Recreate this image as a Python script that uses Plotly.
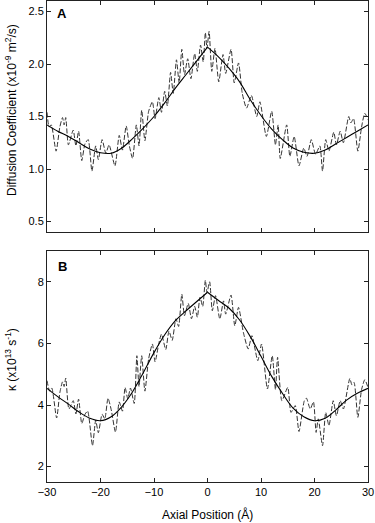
import plotly.graph_objects as go

# ---------------- data ----------------
x_smooth = [-30, -28, -26, -24, -22, -20, -18, -16, -14, -12, -10, -8, -6, -4, -2, 0,
            2, 4, 6, 8, 10, 12, 14, 16, 18, 20, 22, 24, 26, 28, 30]
diff_smooth = [1.42, 1.36, 1.31, 1.25, 1.19, 1.155, 1.15, 1.20, 1.29, 1.39, 1.50, 1.63, 1.77, 1.90, 2.03, 2.16,
               2.07, 1.96, 1.83, 1.66, 1.51, 1.38, 1.28, 1.20, 1.16, 1.15, 1.18, 1.24, 1.30, 1.36, 1.42]
kappa_smooth = [4.54, 4.27, 4.03, 3.77, 3.57, 3.49, 3.62, 3.95, 4.43, 5.05, 5.70, 6.28, 6.74, 7.06, 7.36, 7.66,
                7.40, 7.15, 6.76, 6.22, 5.58, 4.93, 4.38, 3.90, 3.62, 3.49, 3.57, 3.84, 4.16, 4.38, 4.54]

x_diff_raw = [-30.0, -29.6, -29.2, -28.3, -27.6, -27.1, -26.8, -26.5, -26.0, -25.1, -24.6, -24.1, -23.5, -22.9,
              -22.3, -21.6, -20.9, -20.4, -19.7, -19.0, -18.4, -17.3, -16.5, -15.9, -15.2, -14.6, -14.0, -13.3,
              -12.8, -12.3, -11.7, -11.0, -10.3, -9.8, -9.1, -8.6, -8.0, -7.5, -6.9, -6.4, -5.8, -5.3, -4.8,
              -4.3, -3.7, -3.1, -2.4, -1.9, -1.3, -0.8, -0.4, -0.1, 0.3, 0.8, 1.4, 2.1, 2.9, 3.4, 4.4, 5.0,
              5.8, 6.5, 7.3, 8.2, 9.2, 9.8, 11.0, 12.0, 12.7, 13.2, 13.6, 14.8, 15.4, 16.2, 17.1, 18.0, 18.6,
              19.4, 20.2, 21.0, 21.5, 22.1, 22.7, 23.6, 24.1, 24.8, 25.4, 26.4, 26.8, 27.3, 28.1, 28.8, 29.4, 30.0]
diff_raw = [1.54, 1.40, 1.42, 1.17, 1.40, 1.49, 1.42, 1.49, 1.23, 1.37, 1.22, 1.36, 1.08, 1.24,
            1.28, 0.98, 1.22, 1.09, 1.28, 1.15, 1.23, 1.03, 1.32, 1.18, 1.41, 1.22, 1.10, 1.42,
            1.22, 1.56, 1.27, 1.55, 1.64, 1.48, 1.68, 1.54, 1.74, 1.60, 1.92, 1.72, 2.04, 1.82, 2.14,
            1.90, 2.05, 1.86, 2.10, 1.93, 2.18, 2.02, 2.30, 2.15, 2.31, 1.93, 2.15, 1.83, 2.09, 1.91, 2.14, 1.82,
            2.01, 1.72, 1.58, 1.70, 1.50, 1.64, 1.31, 1.55, 1.23, 1.42, 1.10, 1.42, 1.12, 1.31, 1.03, 1.20, 1.12,
            1.28, 1.14, 1.22, 0.98, 1.28, 1.17, 1.35, 1.23, 1.36, 1.25, 1.50, 1.44, 1.48, 1.17, 1.40, 1.53, 1.47]

x_kappa_raw = [-30.0, -29.5, -29.1, -28.2, -27.6, -27.1, -26.8, -26.5, -25.9, -25.1, -24.6, -24.1, -23.5, -22.9,
               -22.4, -21.5, -20.9, -20.4, -19.7, -19.2, -18.6, -18.0, -17.2, -16.5, -15.9, -15.4, -14.9, -14.4,
               -13.7, -13.2, -12.8, -12.3, -11.7, -11.0, -10.3, -9.8, -9.1, -8.6, -7.8, -7.2, -6.6, -5.9, -5.4,
               -4.8, -4.3, -3.6, -3.0, -2.4, -1.9, -1.4, -0.9, -0.4, -0.1, 0.4, 0.9, 1.5, 2.3, 3.0, 3.4, 4.4,
               5.1, 5.8, 6.7, 7.6, 8.3, 9.4, 10.1, 11.2, 12.1, 12.7, 13.1, 13.9, 15.0, 15.6, 16.4, 17.1, 18.1,
               18.5, 19.2, 19.8, 20.3, 20.7, 21.5, 22.1, 22.7, 23.5, 24.1, 24.8, 25.4, 26.6, 27.0, 27.4, 28.1,
               28.8, 29.4, 30.0]
kappa_raw = [4.79, 4.45, 4.55, 3.58, 4.40, 4.75, 4.60, 4.87, 3.87, 4.14, 3.71, 4.19, 3.40, 3.70,
             3.80, 2.68, 3.50, 3.10, 3.70, 3.55, 4.22, 3.85, 3.12, 4.10, 3.80, 4.57, 4.20, 4.55,
             4.05, 5.60, 4.60, 5.60, 4.45, 5.50, 5.98, 5.40, 6.00, 6.30, 5.80, 6.40, 6.10, 6.80, 6.55,
             7.60, 6.90, 7.30, 6.80, 7.20, 6.85, 7.50, 7.20, 8.05, 7.65, 8.00, 7.06, 7.55, 6.79, 7.38, 6.95, 7.57,
             6.57, 7.17, 6.36, 5.82, 6.25, 5.44, 5.98, 4.52, 5.60, 4.50, 5.55, 4.14, 4.57, 3.76, 3.98, 3.14, 4.14,
             4.22, 3.87, 4.10, 3.11, 3.55, 2.68, 3.76, 3.33, 4.14, 3.65, 4.14, 3.87, 4.86, 4.65, 4.73, 3.60,
             4.50, 4.82, 4.57]

x_ticks = [-30, -20, -10, 0, 10, 20, 30]
diff_ticks = [0.5, 1.0, 1.5, 2.0, 2.5]
kappa_ticks = [2, 4, 6, 8]

# ---------------- figure ----------------
FONT = "Arial, Liberation Sans, sans-serif"
dash_style = dict(color="#333333", width=1, dash="5px,2px", shape="spline", smoothing=0.6)
solid_style = dict(color="black", width=1.1, shape="spline", smoothing=1.0)

i0 = x_smooth.index(0)
fig = go.Figure()
for xa, ya, xr, yr, ys in [("x", "y", x_diff_raw, diff_raw, diff_smooth),
                           ("x2", "y2", x_kappa_raw, kappa_raw, kappa_smooth)]:
    fig.add_trace(go.Scatter(x=xr, y=yr, mode="lines", line=dash_style, xaxis=xa, yaxis=ya,
                             showlegend=False, hoverinfo="skip"))
    fig.add_trace(go.Scatter(x=x_smooth[:i0 + 1], y=ys[:i0 + 1], mode="lines", line=solid_style,
                             xaxis=xa, yaxis=ya, showlegend=False, hoverinfo="skip"))
    fig.add_trace(go.Scatter(x=x_smooth[i0:], y=ys[i0:], mode="lines", line=solid_style,
                             xaxis=xa, yaxis=ya, showlegend=False, hoverinfo="skip"))

axis_common = dict(showline=True, linecolor="#222", linewidth=1, mirror="ticks", ticks="inside",
                   ticklen=4, tickcolor="#222", showgrid=False, zeroline=False, automargin=False,
                   ticklabeloverflow="allow",
                   tickfont=dict(family=FONT, size=11, color="black"))

L, R, T, B = 47, 7, 1, 41
PW, PH = 375 - L - R, 523 - T - B


def px_x(px):
    return (px - L) / PW


def px_y(py):
    return (523 - B - py) / PH


title_font = dict(family=FONT, size=12, color="black")
fig.update_layout(
    width=375, height=523,
    margin=dict(l=L, r=R, t=T, b=B),
    paper_bgcolor="white", plot_bgcolor="white",
    font=dict(family=FONT, size=11, color="black"),
    xaxis=dict(domain=[0, 1], anchor="y", range=[-30, 30], tickvals=x_ticks, showticklabels=False,
               **axis_common),
    yaxis=dict(domain=[px_y(232), 1], anchor="x", range=[0.4, 2.6], tickvals=diff_ticks,
               tickformat=".1f", **axis_common),
    xaxis2=dict(domain=[0, 1], anchor="y2", range=[-30, 30], tickvals=x_ticks, **axis_common),
    yaxis2=dict(domain=[0, px_y(251)], anchor="x2", range=[1.5, 9.0], tickvals=kappa_ticks,
                **axis_common),
    annotations=[
        dict(text="<b>A</b>", x=px_x(62), y=px_y(14), xref="paper", yref="paper", xanchor="center",
             yanchor="middle", showarrow=False, font=dict(family=FONT, size=13, color="black")),
        dict(text="<b>B</b>", x=px_x(62), y=px_y(266), xref="paper", yref="paper", xanchor="center",
             yanchor="middle", showarrow=False, font=dict(family=FONT, size=13, color="black")),
        dict(text="Diffusion Coefficient (x10<sup>-9</sup> m<sup>2</sup>/s)", textangle=-90,
             x=px_x(11), y=px_y(110), xref="paper", yref="paper", xanchor="center", yanchor="middle",
             showarrow=False, font=title_font),
        dict(text="κ (x10<sup>13</sup> s<sup>-1</sup>)", textangle=-90,
             x=px_x(11), y=px_y(360), xref="paper", yref="paper", xanchor="center", yanchor="middle",
             showarrow=False, font=title_font),
        dict(text="Axial Position (Å)", x=px_x(207), y=px_y(514), xref="paper", yref="paper",
             xanchor="center", yanchor="middle", showarrow=False, font=title_font),
    ],
)

fig.write_html("out.html", config={"displayModeBar": False},
               post_script="document.body.style.margin='0';document.body.style.padding='0';")
